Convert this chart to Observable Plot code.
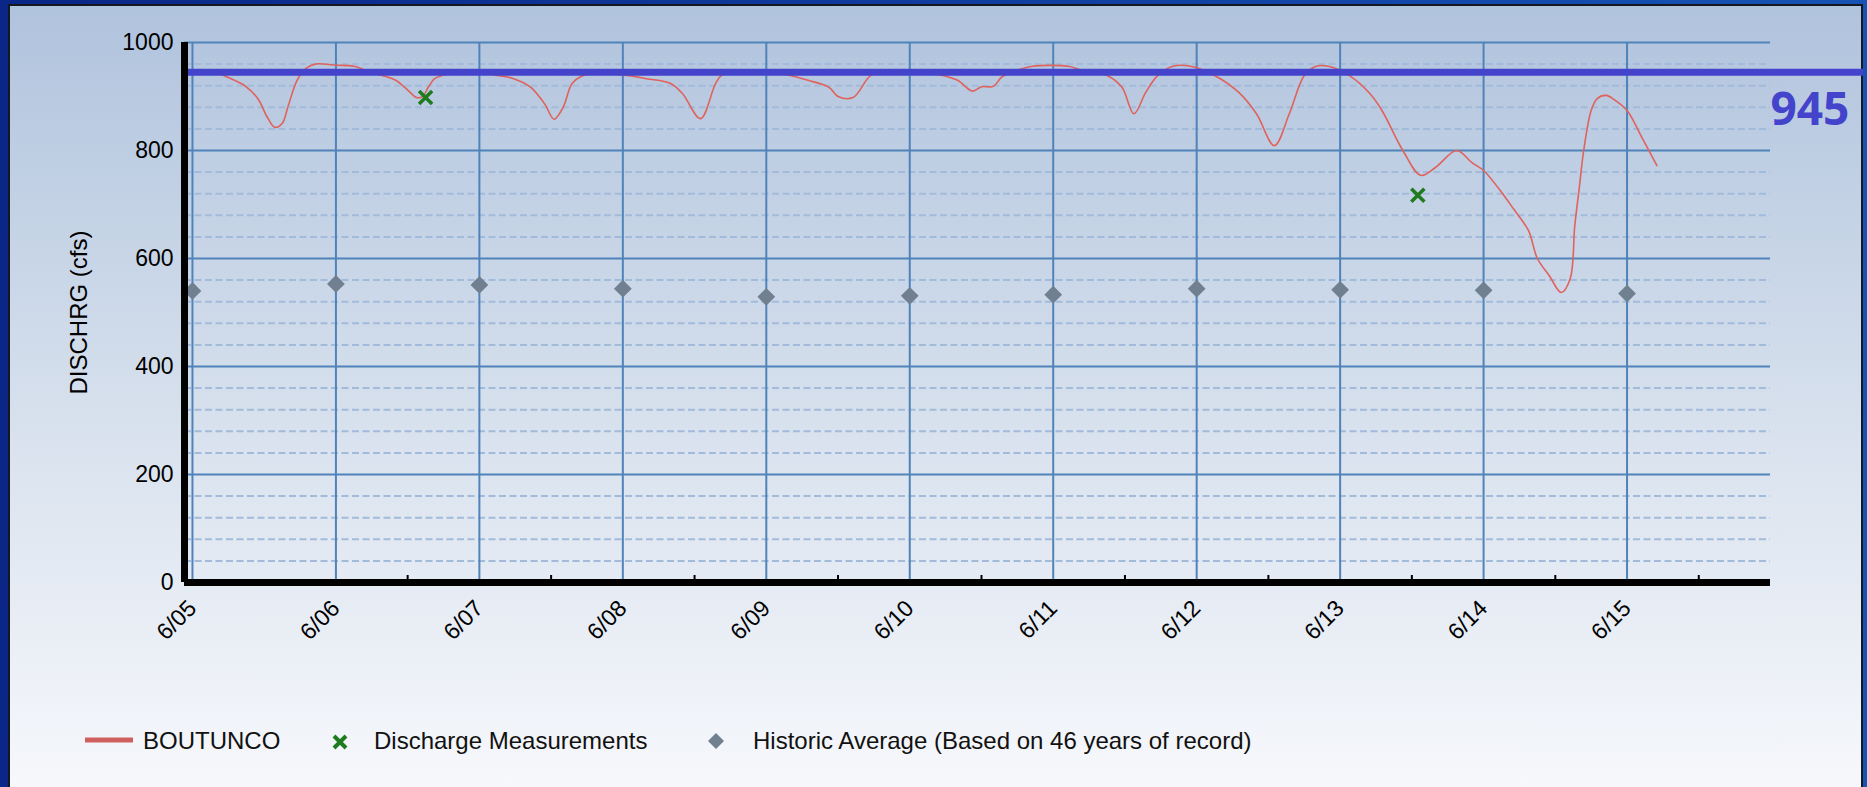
<!DOCTYPE html>
<html>
<head>
<meta charset="utf-8">
<script src="https://cdn.jsdelivr.net/npm/d3@7"></script>
<script src="https://cdn.jsdelivr.net/npm/@observablehq/plot@0.6"></script>
<style>
  html, body { margin: 0; padding: 0; }
  body {
    width: 1867px; height: 787px; overflow: hidden; position: relative;
    background: linear-gradient(to right, #0a2686, #1553b5);
    font-family: "Liberation Sans", Arial, sans-serif;
  }
  #panel {
    position: absolute; left: 8px; top: 4px; width: 1851px; height: 800px;
    border: 2px solid #15181f; border-bottom: none;
    background: linear-gradient(to bottom, #b0c3dd 0%, #d6e0ed 50%, #f8f9fc 100%);
  }
  #chart { position: absolute; left: 0; top: 0; }
  .leg { position: absolute; top: 726px; height: 30px; font-size: 24px; line-height: 30px; color: #111; white-space: nowrap; }
  .sym { position: absolute; }
</style>
</head>
<body>
<div id="panel"></div>
<div id="chart"></div>
<svg class="sym" style="left:84px;top:737px" width="50" height="6"><rect x="1" y="0.5" width="48" height="5" fill="#d0605e"/></svg>
<div class="leg" style="left:143px">BOUTUNCO</div>
<svg class="sym" style="left:331px;top:733px" width="18" height="18"><path d="M3,3L15,15M15,3L3,15" stroke="#1e7b1e" stroke-width="4"/></svg>
<div class="leg" style="left:374px">Discharge Measurements</div>
<svg class="sym" style="left:707px;top:732px" width="18" height="18"><path d="M9,1L17,9L9,17L1,9Z" fill="#708090"/></svg>
<div class="leg" style="left:753px">Historic Average (Based on 46 years of record)</div>
<script>
// ---- data ----
const flowTimes = [
  "2020-06-05T00:00Z","2020-06-05T04:00Z","2020-06-05T06:00Z","2020-06-05T09:00Z","2020-06-05T11:00Z","2020-06-05T12:30Z","2020-06-05T13:45Z","2020-06-05T15:00Z","2020-06-05T16:00Z","2020-06-05T17:30Z","2020-06-05T19:00Z","2020-06-05T20:30Z",
  "2020-06-06T00:00Z","2020-06-06T03:00Z","2020-06-06T06:00Z","2020-06-06T08:00Z","2020-06-06T10:00Z","2020-06-06T12:00Z","2020-06-06T13:30Z","2020-06-06T14:30Z","2020-06-06T15:30Z","2020-06-06T16:30Z","2020-06-06T18:00Z","2020-06-06T21:00Z",
  "2020-06-07T00:00Z","2020-06-07T02:30Z","2020-06-07T05:30Z","2020-06-07T08:30Z","2020-06-07T10:00Z","2020-06-07T11:00Z","2020-06-07T12:30Z","2020-06-07T14:00Z","2020-06-07T15:30Z","2020-06-07T17:00Z","2020-06-07T19:00Z",
  "2020-06-08T00:00Z","2020-06-08T04:00Z","2020-06-08T08:00Z","2020-06-08T10:00Z","2020-06-08T13:00Z","2020-06-08T15:30Z","2020-06-08T16:30Z","2020-06-08T18:30Z",
  "2020-06-09T00:00Z","2020-06-09T04:00Z","2020-06-09T07:00Z","2020-06-09T10:30Z","2020-06-09T12:00Z","2020-06-09T14:30Z","2020-06-09T17:30Z","2020-06-09T20:00Z",
  "2020-06-10T00:00Z","2020-06-10T05:30Z","2020-06-10T08:00Z","2020-06-10T10:30Z","2020-06-10T12:00Z","2020-06-10T14:00Z","2020-06-10T15:30Z","2020-06-10T19:00Z","2020-06-10T20:30Z",
  "2020-06-11T02:30Z","2020-06-11T05:00Z","2020-06-11T09:00Z","2020-06-11T11:30Z","2020-06-11T13:30Z","2020-06-11T15:30Z","2020-06-11T17:30Z","2020-06-11T20:00Z","2020-06-11T23:00Z",
  "2020-06-12T03:00Z","2020-06-12T07:00Z","2020-06-12T10:00Z","2020-06-12T13:00Z","2020-06-12T15:30Z","2020-06-12T18:00Z","2020-06-12T20:00Z","2020-06-12T22:00Z",
  "2020-06-13T01:30Z","2020-06-13T05:00Z","2020-06-13T07:00Z","2020-06-13T10:30Z","2020-06-13T13:30Z","2020-06-13T16:00Z","2020-06-13T19:30Z","2020-06-13T22:00Z",
  "2020-06-14T00:00Z","2020-06-14T02:30Z","2020-06-14T05:00Z","2020-06-14T07:30Z","2020-06-14T09:00Z","2020-06-14T11:00Z","2020-06-14T13:00Z","2020-06-14T14:30Z","2020-06-14T15:15Z","2020-06-14T16:00Z","2020-06-14T16:45Z","2020-06-14T18:00Z","2020-06-14T19:00Z","2020-06-14T20:30Z","2020-06-14T22:00Z",
  "2020-06-15T00:00Z","2020-06-15T02:30Z","2020-06-15T05:00Z"
];
const flowValues = [
  948,944,935,918,895,862,843,850,882,930,952,960,
  958,956,944,938,930,912,898,900,918,933,940,945,
  946,940,934,918,900,885,858,880,924,937,942,
  940,933,924,905,859,924,939,944,
  944,939,930,917,900,898,939,945,
  945,939,930,910,918,919,937,952,956,
  956,948,939,917,868,908,939,956,956,
  939,908,868,809,868,939,956,956,
  939,905,874,800,754,769,800,778,
  763,730,692,652,600,568,537,563,660,730,800,874,896,902,893,
  874,824,772
];
const measTimes = ["2020-06-06T15:00Z", "2020-06-13T13:00Z"];
const measValues = [898, 717];
const histDays = ["2020-06-05","2020-06-06","2020-06-07","2020-06-08","2020-06-09","2020-06-10","2020-06-11","2020-06-12","2020-06-13","2020-06-14","2020-06-15"];
const histValues = [540, 553, 551, 544, 529, 531, 533, 544, 542, 541, 535];
const threshold = 945;
const yMajorTicks = [0, 200, 400, 600, 800, 1000];
const yMinorTicks = d3.range(40, 1000, 40).filter(v => v % 200 !== 0);
const seriesName = "BOUTUNCO";
const yTitle = "DISCHRG (cfs)";

// ---- build ----
const flow = flowTimes.map((t, i) => ({t: new Date(t), v: flowValues[i]}));
const meas = measTimes.map((t, i) => ({t: new Date(t), v: measValues[i]}));
const hist = histDays.map((t, i) => ({t: new Date(t + "T00:00Z"), v: histValues[i]}));
const dayTicks = hist.map(d => d.t);
const halfDayTicks = dayTicks.slice(1).map(d => d3.utcHour.offset(d, 12));
const xStart = d3.utcMinute.offset(dayTicks[0], -80);
const xEnd = d3.utcDay.offset(dayTicks[dayTicks.length - 1], 1);

const chart = Plot.plot({
  width: 1867,
  height: 700,
  marginLeft: 184,
  marginRight: 97,
  marginTop: 42,
  marginBottom: 118,
  style: {background: "transparent", fontFamily: "'Liberation Sans', Arial, sans-serif", fontSize: "23px", color: "#000", overflow: "visible"},
  x: {type: "utc", domain: [xStart, xEnd]},
  y: {domain: [0, 1000]},
  marks: [
    Plot.ruleY(yMinorTicks, {stroke: "#a3bbda", strokeWidth: 2, strokeDasharray: "7,3.5"}),
    Plot.ruleY(yMajorTicks, {stroke: "#4f83b9", strokeWidth: 2}),
    Plot.ruleX(dayTicks, {stroke: "#4f83b9", strokeWidth: 2}),
    Plot.ruleX(halfDayTicks, {y1: 0, y2: 13, stroke: "#000", strokeWidth: 2}),
    Plot.line(flow, {x: "t", y: "v", stroke: "#e0625d", strokeWidth: 1.6, curve: "catmull-rom"}),
    Plot.ruleY([threshold], {stroke: "#4343cc", strokeWidth: 7, insetRight: -93}),
    Plot.text([threshold], {x: () => xEnd, y: d => d, text: d => String(d), textAnchor: "start", dx: 0, dy: 38,
      fontSize: 46, fontWeight: "bold", fill: "#4343cc", fontFamily: "'Open Sans', 'Liberation Sans', sans-serif"}),
    Plot.dot(hist, {x: "t", y: "v", symbol: "diamond2", r: 8, fill: "#708090", stroke: "none"}),
    Plot.dot(meas, {x: "t", y: "v", symbol: "times", r: 6, stroke: "#1e7b1e", strokeWidth: 3.5}),
    Plot.ruleX([xStart], {stroke: "#000", strokeWidth: 7}),
    Plot.ruleY([0], {stroke: "#000", strokeWidth: 7}),
    Plot.axisY({ticks: yMajorTicks, tickSize: 0, tickPadding: 11, tickFormat: d => String(d), label: null, fontSize: 23}),
    Plot.axisX({ticks: dayTicks, tickSize: 0, tickPadding: 22, tickRotate: -45, tickFormat: d3.utcFormat("%-m/%d"), label: null, fontSize: 23}),
    Plot.text([yTitle], {frameAnchor: "left", textAnchor: "middle", dx: -105, rotate: -90, text: d => d, fontSize: 24, fill: "#000"})
  ]
});
document.getElementById("chart").appendChild(chart);
</script>
</body>
</html>
